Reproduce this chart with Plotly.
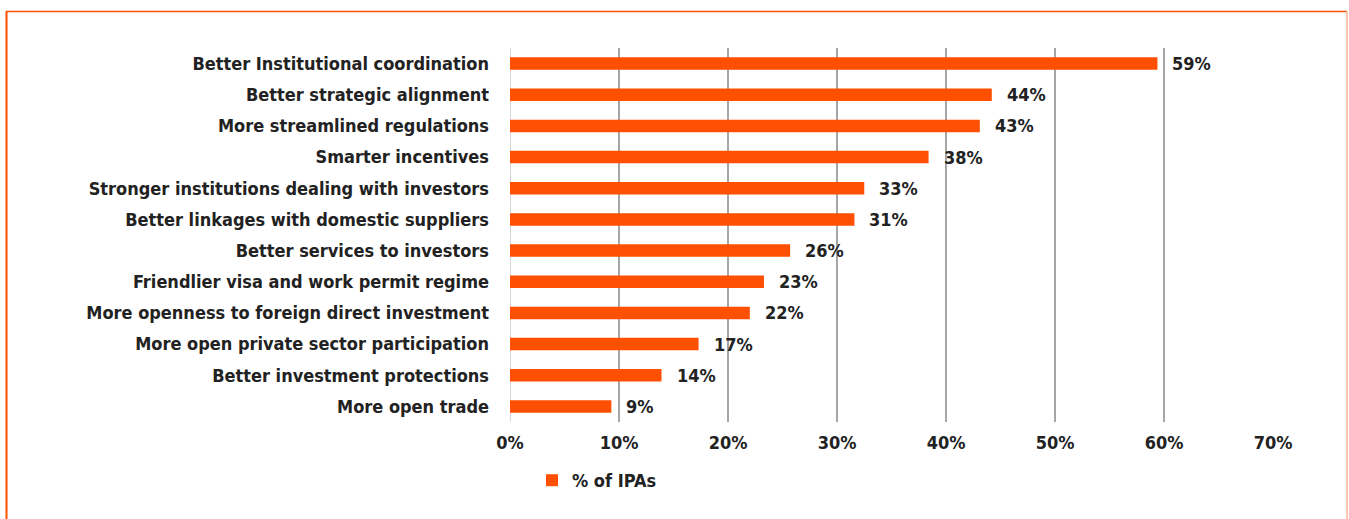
import plotly.graph_objects as go

categories = [
    "Better Institutional coordination",
    "Better strategic alignment",
    "More streamlined regulations",
    "Smarter incentives",
    "Stronger institutions dealing with investors",
    "Better linkages with domestic suppliers",
    "Better services to investors",
    "Friendlier visa and work permit regime",
    "More openness to foreign direct investment",
    "More open private sector participation",
    "Better investment protections",
    "More open trade",
]
values = [0.594, 0.442, 0.431, 0.384, 0.325, 0.316, 0.257, 0.233, 0.220, 0.173, 0.139, 0.093]
labels = ["59%", "44%", "43%", "38%", "33%", "31%", "26%", "23%", "22%", "17%", "14%", "9%"]
tick_vals = [0, 0.1, 0.2, 0.3, 0.4, 0.5, 0.6, 0.7]
tick_text = ["0%", "10%", "20%", "30%", "40%", "50%", "60%", "70%"]

ORANGE = "#FF4F00"
TEXT = "#222222"
FONT = "DejaVu Sans Condensed, Liberation Sans Narrow, Arial Narrow, sans-serif"
FS = 18

fig = go.Figure()
fig.add_trace(go.Bar(
    x=values, y=categories, orientation="h",
    marker=dict(color=ORANGE, line=dict(width=0)),
    name="% of IPAs", width=0.4,
))

for v, c, t in zip(values, categories, labels):
    fig.add_annotation(x=v, y=c, text=t, showarrow=False, xanchor="left",
                       xshift=13, font=dict(size=FS, color=TEXT, family=FONT, weight="bold"))

W, H = 1349, 519
L, R, T, B = 510, 76, 48, 97
pw, ph = W - L - R, H - T - B
def px(x): return (x - L) / pw
def py(y): return (H - B - y) / ph

# frame: top and left in orange, right in pale orange
fig.add_shape(type="line", xref="paper", yref="paper",
              x0=px(6), x1=px(1347), y0=py(11.5), y1=py(11.5),
              line=dict(color=ORANGE, width=1.5), layer="below")
fig.add_shape(type="line", xref="paper", yref="paper",
              x0=px(6.5), x1=px(6.5), y0=py(11), y1=py(560),
              line=dict(color=ORANGE, width=2), layer="below")
fig.add_shape(type="line", xref="paper", yref="paper",
              x0=px(1347), x1=px(1347), y0=py(11), y1=py(560),
              line=dict(color="#FFB393", width=1.5), layer="below")

fig.update_layout(
    width=W, height=H,
    margin=dict(l=L, r=R, t=T, b=B),
    paper_bgcolor="white", plot_bgcolor="white",
    font=dict(family=FONT, color=TEXT, size=FS),
    showlegend=True,
    legend=dict(orientation="h", x=px(532), y=py(462), xanchor="left", yanchor="top",
                font=dict(size=FS, family=FONT, color=TEXT, weight="bold")),
    xaxis=dict(range=[0, 0.7], tickvals=tick_vals, ticktext=tick_text,
               showgrid=True, gridcolor="#A6A6A6", gridwidth=1.5, zeroline=False,
               showline=False, ticks="", ticklabelstandoff=8,
               tickfont=dict(size=FS, family=FONT, color=TEXT, weight="bold")),
    yaxis=dict(autorange="reversed", showgrid=False, zeroline=False, showline=False,
               ticks="", ticklabelstandoff=20,
               tickfont=dict(size=FS, family=FONT, color=TEXT, weight="bold")),
    bargap=0.6,
)
fig.add_shape(type="line", xref="x", yref="paper", x0=0, x1=0, y0=0, y1=1,
              line=dict(color="#D9D9D9", width=2), layer="below")

fig.write_html("out.html", config={"displayModeBar": False},
               post_script="document.body.style.margin='0';document.body.style.overflow='hidden';")
